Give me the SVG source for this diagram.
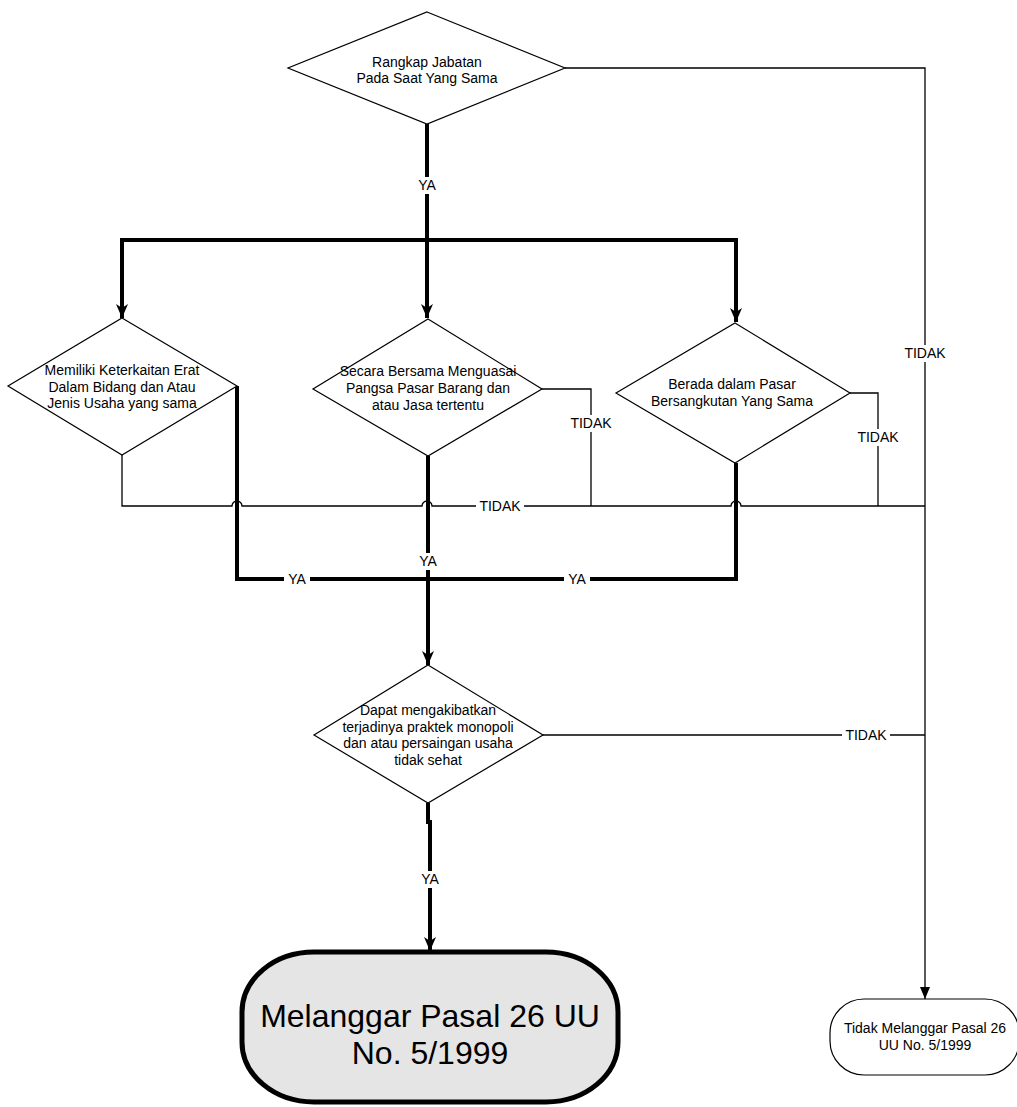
<svg xmlns="http://www.w3.org/2000/svg" width="1017" height="1107" viewBox="0 0 1017 1107">
<style>
text{font-family:"Liberation Sans",Arial,sans-serif;font-size:14px;fill:#000;text-anchor:middle}
.dia{fill:#fff;stroke:#000;stroke-width:1.2}
.thin{fill:none;stroke:#000;stroke-width:1.3}
.thick{fill:none;stroke:#000;stroke-width:4;stroke-linejoin:miter}
.bg{fill:#fff}
.big{font-size:32px}
</style>
<defs>
<marker id="ah" viewBox="0 0 14 12" refX="14" refY="6" markerWidth="14" markerHeight="12" markerUnits="userSpaceOnUse" orient="auto">
<path d="M0,0 L14,6 L0,12 L4,6 Z" fill="#000"/>
</marker>
<marker id="ahs" viewBox="0 0 12 10" refX="12" refY="5" markerWidth="12" markerHeight="10" markerUnits="userSpaceOnUse" orient="auto">
<path d="M0,0 L12,5 L0,10 Z" fill="#000"/>
</marker>
</defs>
<g id="connectors">
<path class="thin" d="M565,68 H925 V999" marker-end="url(#ahs)"/>
<path class="thin" d="M542,389 H591 V506"/>
<path class="thin" d="M850,393 H878 V506"/>
<path class="thin" d="M122,455 V506 H232 A5,5 0 0 1 242,506 H422 A5,5 0 0 1 432,506 H731 A5,5 0 0 1 741,506 H925"/>
<path class="thin" d="M543,735 H925"/>
<path class="thick" d="M427,124 V318" marker-end="url(#ah)"/>
<path class="thick" d="M427,240 H122 V318" marker-end="url(#ah)"/>
<path class="thick" d="M427,240 H736 V322" marker-end="url(#ah)"/>
<path class="thick" d="M237,386 V579 H428"/>
<path class="thick" d="M736,463 V579 H428"/>
<path class="thick" d="M428,456 V665" marker-end="url(#ah)"/>
<path class="thick" d="M428,803 V822 H430 V951" marker-end="url(#ah)"/>
<rect class="bg" x="415" y="177" width="24" height="17"/>
<text x="427" y="190">YA</text>
<rect class="bg" x="903" y="345" width="44" height="17"/>
<text x="925" y="358">TIDAK</text>
<rect class="bg" x="569" y="415" width="44" height="17"/>
<text x="591" y="428">TIDAK</text>
<rect class="bg" x="856" y="429" width="44" height="17"/>
<text x="878" y="442">TIDAK</text>
<rect class="bg" x="476" y="500" width="48" height="13"/>
<text x="500" y="511">TIDAK</text>
<rect class="bg" x="284" y="572" width="26" height="14"/>
<text x="297" y="584">YA</text>
<rect class="bg" x="416" y="553" width="24" height="17"/>
<text x="428" y="566">YA</text>
<rect class="bg" x="564" y="572" width="26" height="14"/>
<text x="577" y="584">YA</text>
<rect class="bg" x="842" y="729" width="48" height="13"/>
<text x="866" y="740">TIDAK</text>
<rect class="bg" x="418" y="871" width="24" height="17"/>
<text x="430" y="884">YA</text>
</g>
<g id="n1">
<polygon class="dia" points="427,12 565,68 427,124 288,68"/>
<text x="427" y="67">Rangkap Jabatan</text>
<text x="427" y="83">Pada Saat Yang Sama</text>
</g>
<g id="n2">
<polygon class="dia" points="122,318 237,386 122,455 8,386"/>
<text x="122" y="375">Memiliki Keterkaitan Erat</text>
<text x="122" y="392">Dalam Bidang dan Atau</text>
<text x="122" y="408">Jenis Usaha yang sama</text>
</g>
<g id="n3">
<polygon class="dia" points="428,319 542,389 428,456 313,389"/>
<text x="428" y="376">Secara Bersama Menguasai</text>
<text x="428" y="393">Pangsa Pasar Barang dan</text>
<text x="428" y="410">atau Jasa tertentu</text>
</g>
<g id="n4">
<polygon class="dia" points="735,323 850,393 735,463 616,393"/>
<text x="732" y="389">Berada dalam Pasar</text>
<text x="732" y="406">Bersangkutan Yang Sama</text>
</g>
<g id="n5">
<polygon class="dia" points="428,665 543,735 428,803 314,735"/>
<text x="428" y="715">Dapat mengakibatkan</text>
<text x="428" y="732">terjadinya praktek monopoli</text>
<text x="428" y="748">dan atau persaingan usaha</text>
<text x="428" y="765">tidak sehat</text>
</g>
<g id="n6">
<rect x="242" y="952" width="376" height="150" rx="72" ry="60" fill="#e5e5e5" stroke="#000" stroke-width="5"/>
<text class="big" x="430" y="1027">Melanggar Pasal 26 UU</text>
<text class="big" x="430" y="1064">No. 5/1999</text>
</g>
<g id="n7">
<rect x="830" y="999" width="189" height="76" rx="34" ry="34" fill="#fff" stroke="#000" stroke-width="1.2"/>
<text x="925" y="1033">Tidak Melanggar Pasal 26</text>
<text x="925" y="1050">UU No. 5/1999</text>
</g>
</svg>
